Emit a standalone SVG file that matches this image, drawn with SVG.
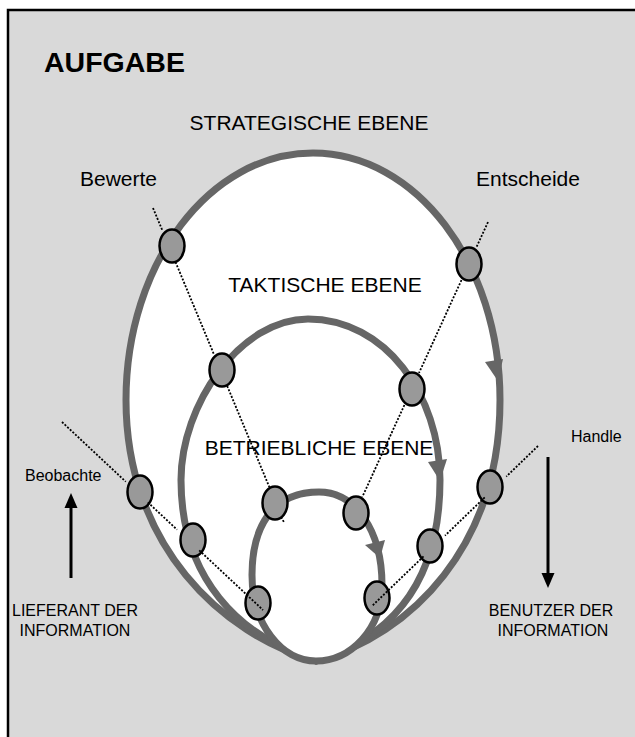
<svg xmlns="http://www.w3.org/2000/svg" width="635" height="737" viewBox="0 0 635 737">
  <defs>
    <style>
      .loop { fill: #ffffff; stroke: #666666; stroke-width: 7; }
      .head { fill: #666666; stroke: none; }
      .node { fill: #999999; stroke: #000000; stroke-width: 2.5; }
      .dot { fill: none; stroke: #000000; stroke-width: 1.8; stroke-dasharray: 2 1.6; }
      .flow { fill: none; stroke: #000000; stroke-width: 3; }
      .tip { fill: #000000; }
      text { font-family: "Liberation Sans", Arial, sans-serif; fill: #000000; }
      .lvl { font-size: 21px; text-anchor: middle; }
      .act { font-size: 21px; }
      .small { font-size: 16px; }
      .role { font-size: 16px; text-anchor: middle; }
    </style>
  </defs>

  <!-- page and frame -->
  <rect x="0" y="0" width="635" height="737" fill="#ffffff"/>
  <rect x="8" y="10" width="660" height="760" fill="#d9d9d9" stroke="#000000" stroke-width="2.5"/>

  <!-- the three planning levels as nested loops -->
  <g id="levels">
    <path id="strategic-loop" class="loop" d="M313,153 C416,153 500,263 500,400 C500,545 412,635 316,661 C222,635 126,545 126,400 C126,263 210,153 313,153 Z"/>
    <path id="tactical-loop" class="loop" d="M308,319 C385,319 440,395 440,480 C440,578 396,636 316,661 C238,636 181,578 181,480 C181,405 240,319 308,319 Z"/>
    <path id="operational-loop" class="loop" d="M319,492 C355,492 382,530 382,585 C382,630 350,661 316,661 C282,661 252,625 252,575 C252,530 270,492 319,492 Z"/>
    <polygon class="head" points="485,362 503,359 498,381"/>
    <polygon class="head" points="428,462 447,459 440,481"/>
    <polygon class="head" points="365,545 385,540 380,558"/>
  </g>

  <!-- nodes -->
  <g id="n-bewerte-1"><ellipse class="node" cx="172" cy="246" rx="12.5" ry="16.5"/></g>
  <g id="n-bewerte-2"><ellipse class="node" cx="222" cy="370" rx="12.5" ry="16.5"/></g>
  <g id="n-bewerte-3"><ellipse class="node" cx="275" cy="503" rx="12.5" ry="16.5"/></g>
  <g id="n-entscheide-1"><ellipse class="node" cx="469" cy="264" rx="12.5" ry="16.5"/></g>
  <g id="n-entscheide-2"><ellipse class="node" cx="412" cy="389" rx="12.5" ry="16.5"/></g>
  <g id="n-entscheide-3"><ellipse class="node" cx="356" cy="513" rx="12.5" ry="16.5"/></g>
  <g id="n-beobachte-1"><ellipse class="node" cx="140" cy="492" rx="12.5" ry="16.5"/></g>
  <g id="n-beobachte-2"><ellipse class="node" cx="193" cy="540" rx="12.5" ry="16.5"/></g>
  <g id="n-beobachte-3"><ellipse class="node" cx="258" cy="603" rx="12.5" ry="16.5"/></g>
  <g id="n-handle-1"><ellipse class="node" cx="490" cy="487" rx="12.5" ry="16.5"/></g>
  <g id="n-handle-2"><ellipse class="node" cx="430" cy="546" rx="12.5" ry="16.5"/></g>
  <g id="n-handle-3"><ellipse class="node" cx="377" cy="598" rx="12.5" ry="16.5"/></g>

  <!-- dotted connector lines and flow arrows -->
  <g id="connectors">
    <path class="dot" d="M153,208 L162.2,230 M175.5,262 L213.8,354 M227.2,386 L269.3,487 M281,517 L284.5,523"/>
    <path class="dot" d="M488,222 L476.1,248 M461.5,280 L419,373 M404.4,405 L362.3,497"/>
    <path class="dot" d="M62,422 L125.8,481.7 M147.8,502.3 L177.1,529.7 M199.2,550.3 L263,610"/>
    <path class="dot" d="M538,446 L506.3,476.6 M484.7,497.4 L445,535.6 M423.5,556.4 L372,606"/>
    <line class="flow" x1="71" y1="578" x2="71" y2="505"/>
    <polygon class="tip" points="71,493 64.5,508 77.5,508"/>
    <line class="flow" x1="548" y1="457" x2="548" y2="575"/>
    <polygon class="tip" points="548,588 541.5,573 554.5,573"/>
  </g>

  <!-- labels -->
  <g id="labels">
    <text x="44" y="72" font-size="28.5" font-weight="bold">AUFGABE</text>
    <text class="lvl" x="309" y="130">STRATEGISCHE EBENE</text>
    <text class="lvl" x="325" y="292">TAKTISCHE EBENE</text>
    <text class="lvl" x="319" y="455">BETRIEBLICHE EBENE</text>
    <text class="act" x="80" y="186">Bewerte</text>
    <text class="act" x="476" y="186">Entscheide</text>
    <text class="small" x="25" y="481">Beobachte</text>
    <text class="small" x="571" y="442">Handle</text>
    <text class="role" x="75" y="616">LIEFERANT DER</text>
    <text class="role" x="75" y="636">INFORMATION</text>
    <text class="role" x="551" y="616">BENUTZER DER</text>
    <text class="role" x="553" y="636">INFORMATION</text>
  </g>
</svg>
